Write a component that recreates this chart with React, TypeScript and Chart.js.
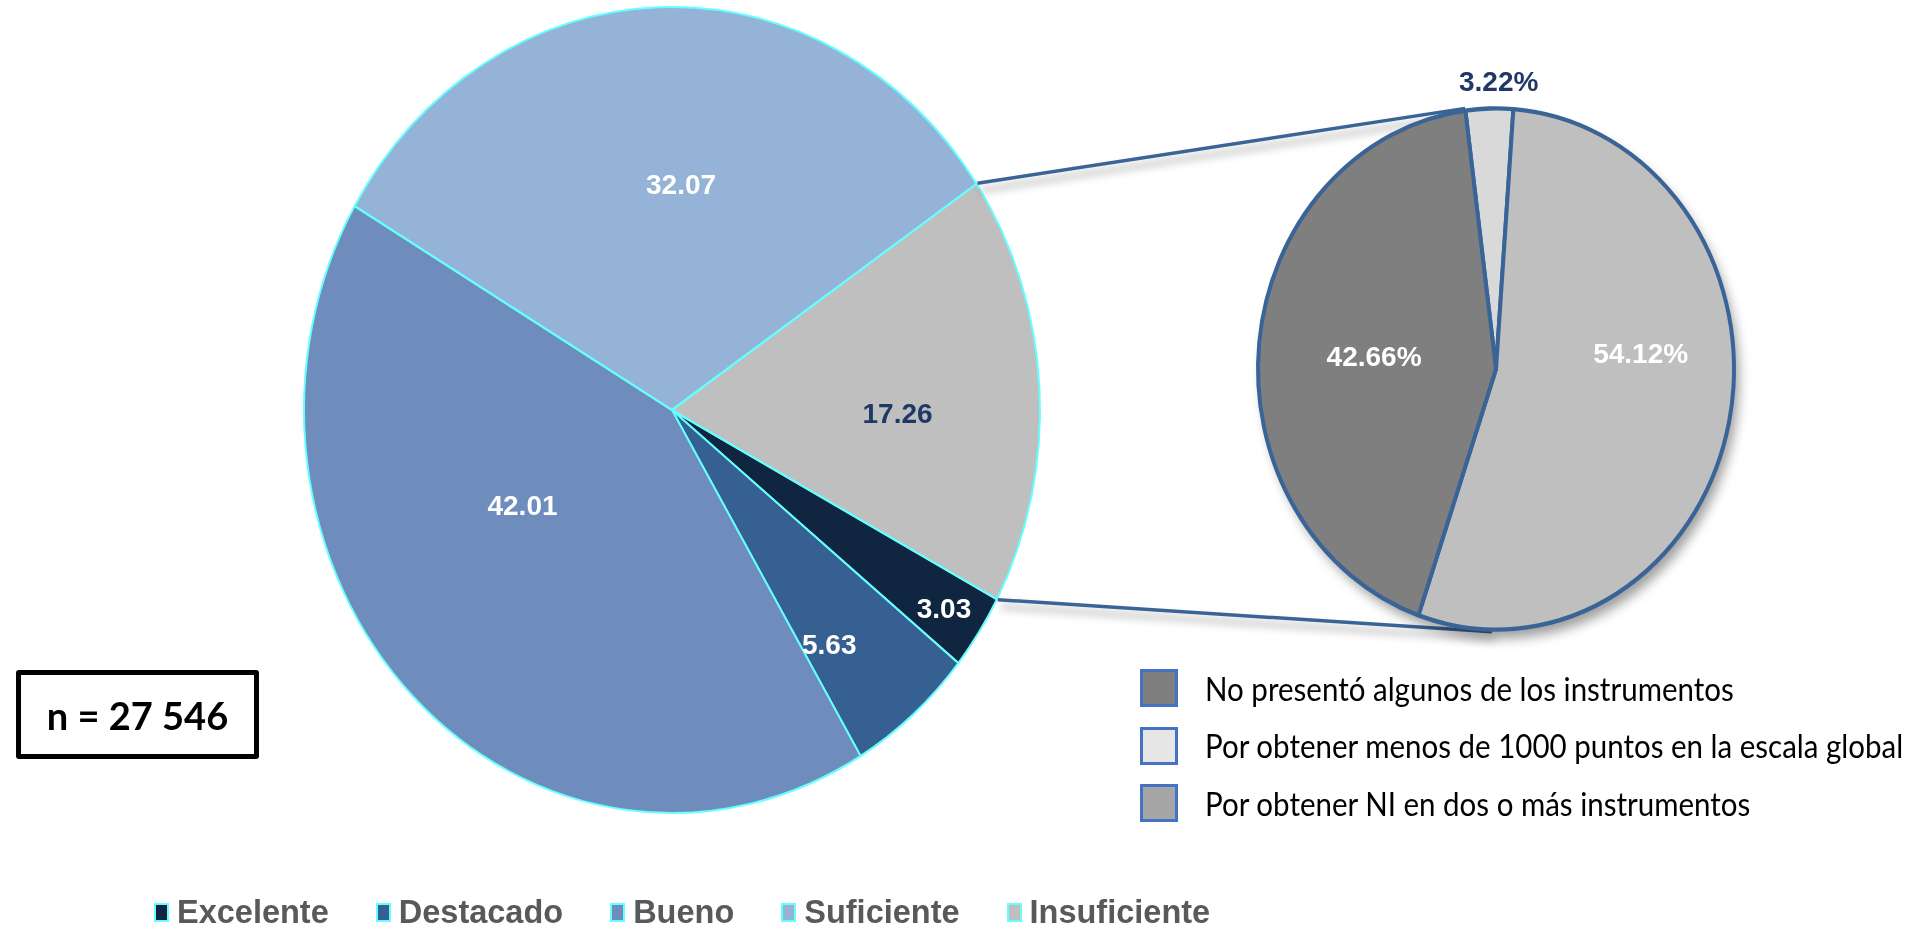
import React, { useEffect, useRef } from "react";
import { Chart, registerables } from "chart.js";
Chart.register(...registerables);

// ---- data ----
const mainLabels = ["Excelente", "Destacado", "Bueno", "Suficiente", "Insuficiente"];
const mainValues = [3.03, 5.63, 42.01, 32.07, 17.26];
const mainColors = ["#10253F", "#366092", "#6E8CBC", "#95B3D7", "#BFBFBF"];
const mainTextColors = ["#FFFFFF", "#FFFFFF", "#FFFFFF", "#FFFFFF", "#1F3864"];

const subLabels = [
  "Por obtener menos de 1000 puntos en la escala global",
  "Por obtener NI en dos o más instrumentos",
  "No presentó algunos de los instrumentos",
];
const subValues = [3.22, 54.12, 42.66];
const subColors = ["#D9D9D9", "#BFBFBF", "#7F7F7F"];
const subTextColors = ["#1F3864", "#FFFFFF", "#FFFFFF"];

const subLegendOrder = [2, 0, 1];
const subLegendColors = ["#7F7F7F", "#E6E6E6", "#A6A6A6"];

const sampleText = "n = 27 546";

// ---- layout / style ----
const W = 1914;
const H = 928;
const SY = 1.095;
const MAIN = { cx: 672, cy: 410, r: 369, rotation: 118 };
const SUB = { cx: 1496, cy: 369, r: 240, rotation: -7.4 };
const mainLabelPos = { frac: [0.89, 0.726, 0.472, 0.555, 0.613], shift: [0.4, 4.9, 14.6, 4.4, 4.4] };
const subLabelPos = { frac: [1.095, 0.61, 0.514], shift: [2.2, -16.6, -1.2] };
const LABEL_FONT = "bold 28px 'Liberation Sans', Arial, sans-serif";
const LINE_COLOR = "#3A6496";

function ell(g: { cx: number; cy: number; r: number }, angDeg: number) {
  const a = ((angDeg - 90) * Math.PI) / 180;
  return [g.cx + g.r * Math.cos(a), g.cy + g.r * Math.sin(a) * SY];
}

function makePlugin(textColors: string[], pos: { frac: number[]; shift: number[] }, suffix: string, shadow: boolean) {
  return {
    id: "stretchLabels",
    beforeDatasetsDraw(chart: any) {
      const ctx = chart.ctx;
      const a = chart.getDatasetMeta(0).data[0];
      if (!a) return;
      if (shadow) {
        ctx.save();
        ctx.shadowColor = "rgba(0,0,0,0.38)";
        ctx.shadowBlur = 12;
        ctx.shadowOffsetX = 5;
        ctx.shadowOffsetY = 9;
        ctx.fillStyle = "#ffffff";
        ctx.beginPath();
        ctx.ellipse(a.x, a.y, a.outerRadius, a.outerRadius * SY, 0, 0, Math.PI * 2);
        ctx.fill();
        ctx.restore();
      }
      ctx.save();
      ctx.translate(a.x, a.y);
      ctx.scale(1, SY);
      ctx.translate(-a.x, -a.y);
    },
    afterDatasetsDraw(chart: any) {
      const ctx = chart.ctx;
      ctx.restore();
      const meta = chart.getDatasetMeta(0);
      const values = chart.data.datasets[0].data as number[];
      ctx.save();
      ctx.font = LABEL_FONT;
      ctx.textAlign = "center";
      ctx.textBaseline = "middle";
      meta.data.forEach((arc: any, i: number) => {
        const mid = (arc.startAngle + arc.endAngle) / 2 + (pos.shift[i] * Math.PI) / 180;
        const rr = arc.outerRadius * pos.frac[i];
        const px = arc.x + Math.cos(mid) * rr;
        const py = arc.y + Math.sin(mid) * rr * SY;
        ctx.fillStyle = textColors[i];
        ctx.fillText(values[i].toFixed(2) + suffix, px, py);
      });
      ctx.restore();
    },
  };
}

function padFor(g: { cx: number; cy: number; r: number }) {
  return { left: g.cx - g.r, right: W - (g.cx + g.r), top: g.cy - g.r, bottom: H - (g.cy + g.r) };
}

export default function App() {
  const mainRef = useRef<HTMLCanvasElement>(null);
  const subRef = useRef<HTMLCanvasElement>(null);

  useEffect(() => {
    document.body.style.margin = "0";
    const main = new Chart(mainRef.current!, {
      type: "pie",
      data: {
        labels: mainLabels,
        datasets: [{ data: mainValues, backgroundColor: mainColors, borderColor: "#66FFFF", borderWidth: 2 }],
      },
      options: {
        responsive: false,
        animation: false,
        events: [],
        rotation: MAIN.rotation,
        layout: { padding: padFor(MAIN) },
        plugins: { legend: { display: false }, tooltip: { enabled: false } },
      },
      plugins: [makePlugin(mainTextColors, mainLabelPos, "", false)],
    } as any);
    const sub = new Chart(subRef.current!, {
      type: "pie",
      data: {
        labels: subLabels,
        datasets: [{ data: subValues, backgroundColor: subColors, borderColor: LINE_COLOR, borderWidth: 4 }],
      },
      options: {
        responsive: false,
        animation: false,
        events: [],
        rotation: SUB.rotation,
        layout: { padding: padFor(SUB) },
        plugins: { legend: { display: false }, tooltip: { enabled: false } },
      },
      plugins: [makePlugin(subTextColors, subLabelPos, "%", true)],
    } as any);
    return () => {
      main.destroy();
      sub.destroy();
    };
  }, []);

  const total = mainValues.reduce((s, v) => s + v, 0);
  const insStart = MAIN.rotation + (360 * (total - mainValues[4])) / total;
  const p1 = ell(MAIN, insStart);
  const q1 = ell(SUB, SUB.rotation);
  const p2 = ell(MAIN, MAIN.rotation);
  const q2 = ell(SUB, 181);

  return (
    <div style={{ position: "absolute", left: 0, top: 0, width: W, height: H, background: "#fff", overflow: "hidden" }}>
      <canvas ref={mainRef} width={W} height={H} style={{ position: "absolute", left: 0, top: 0, width: W, height: H }} />
      <svg
        width={W}
        height={H}
        style={{ position: "absolute", left: 0, top: 0, filter: "drop-shadow(3px 7px 4px rgba(0,0,0,0.35))" }}
      >
        <line x1={p1[0]} y1={p1[1]} x2={q1[0]} y2={q1[1]} stroke={LINE_COLOR} strokeWidth={3.5} />
        <line x1={p2[0]} y1={p2[1]} x2={q2[0]} y2={q2[1]} stroke={LINE_COLOR} strokeWidth={3.5} />
      </svg>
      <canvas ref={subRef} width={W} height={H} style={{ position: "absolute", left: 0, top: 0, width: W, height: H }} />

      <div
        style={{
          position: "absolute",
          left: 16,
          top: 670,
          width: 243,
          height: 89,
          boxSizing: "border-box",
          border: "5px solid #000",
          borderRadius: 3,
          display: "flex",
          alignItems: "center",
          justifyContent: "center",
          fontFamily: "Lato, 'Open Sans', sans-serif",
          fontWeight: 700,
          fontSize: 38,
          color: "#000",
        }}
      >
        {sampleText}
      </div>

      {subLegendOrder.map((idx, k) => (
        <div key={k} style={{ position: "absolute", left: 1140, top: 669 + k * 57.5, height: 38, display: "flex", alignItems: "center" }}>
          <div
            style={{
              width: 38,
              height: 38,
              boxSizing: "border-box",
              border: "3px solid #4472C4",
              background: subLegendColors[k],
            }}
          />
          <div
            style={{
              marginLeft: 27,
              fontFamily: "Lato, 'Open Sans', sans-serif",
              fontSize: 29.5,
              color: "#000",
              whiteSpace: "nowrap",
              transform: "scaleY(1.1)",
            }}
          >
            {subLabels[idx]}
          </div>
        </div>
      ))}

      <div
        style={{
          position: "absolute",
          left: 154,
          top: 893,
          height: 38,
          display: "flex",
          alignItems: "center",
          fontFamily: "'Liberation Sans', Arial, sans-serif",
          fontWeight: 700,
          fontSize: 32.5,
          color: "#595959",
          whiteSpace: "nowrap",
        }}
      >
        {mainLabels.map((l, i) => (
          <div key={l} style={{ display: "flex", alignItems: "center", marginRight: i < mainLabels.length - 1 ? 47 : 0 }}>
            <div
              style={{
                width: 15,
                height: 19,
                boxSizing: "border-box",
                border: "2px solid #66FFFF",
                background: mainColors[i],
                marginRight: 8,
              }}
            />
            <span>{l}</span>
          </div>
        ))}
      </div>
    </div>
  );
}
